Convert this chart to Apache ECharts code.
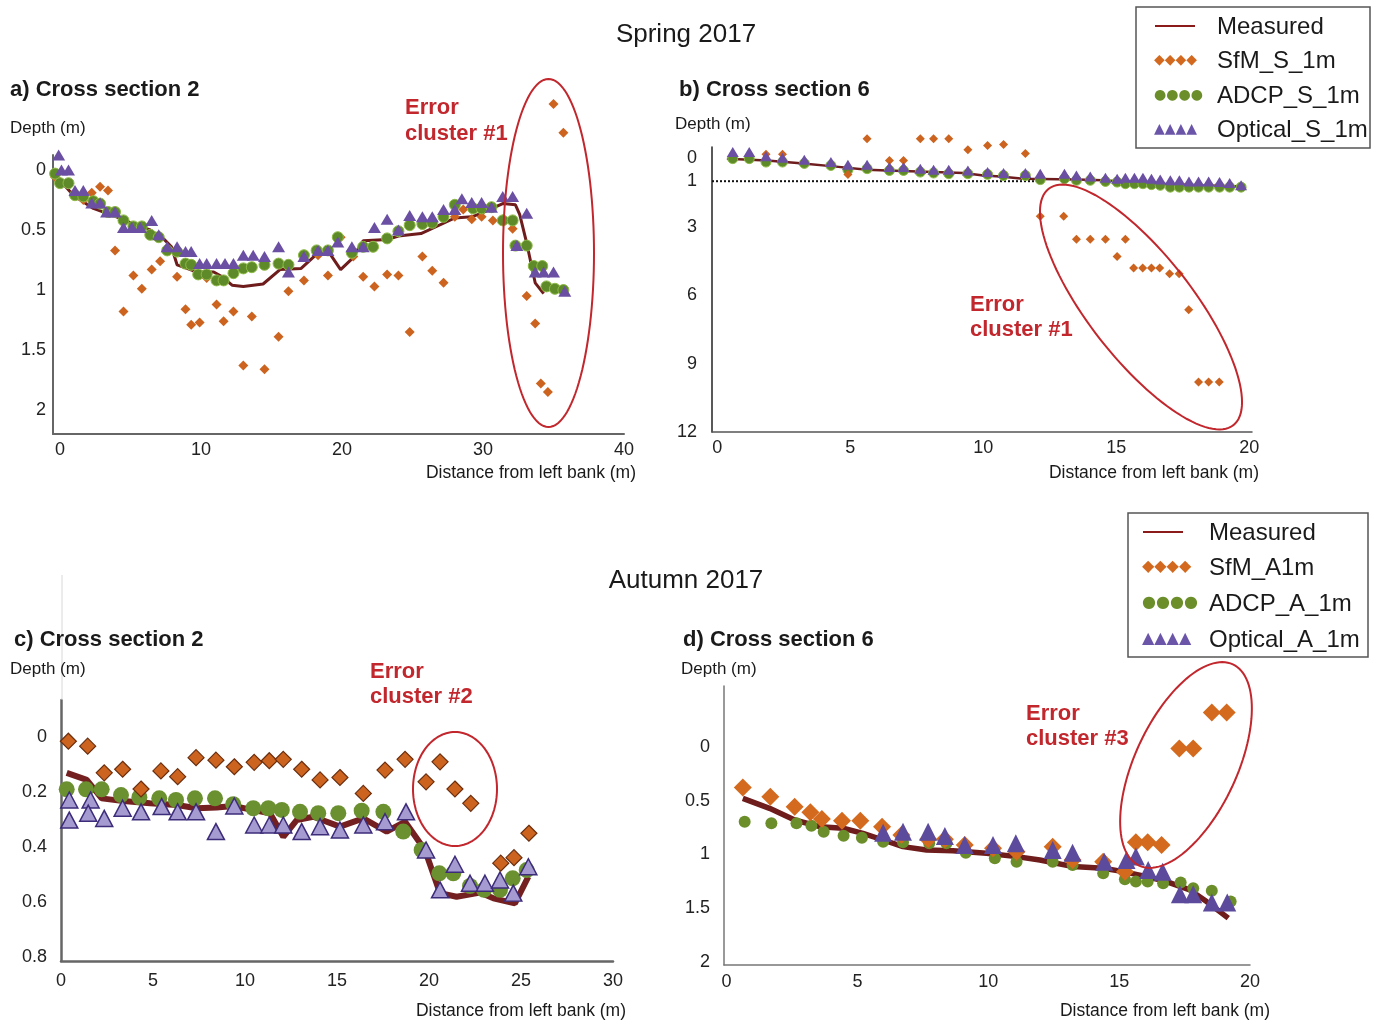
<!DOCTYPE html>
<html><head><meta charset="utf-8">
<script src="https://cdn.jsdelivr.net/npm/echarts@6/dist/echarts.min.js"></script>
<style>html,body{margin:0;padding:0;background:#fff}#c{width:1378px;height:1023px}</style>
</head><body><div id="c"></div><script>
// ---------- Panel a) Spring, cross section 2 ----------
var aXTicks = [0, 10, 20, 30, 40];
var aYTicks = [0, 0.5, 1, 1.5, 2];
var aMeasured = [[-0.35,0.04],[0.94,0.21],[2.36,0.32],[4.0,0.39],[5.4,0.46],[6.4,0.5],[7.4,0.58],[7.9,0.64],[8.3,0.79],[9.0,0.82],[9.7,0.85],[10.9,0.85],[11.5,0.89],[12.2,0.96],[13.0,0.97],[14.4,0.95],[15.6,0.83],[17.1,0.82],[18.3,0.69],[19.1,0.69],[19.9,0.83],[20.7,0.74],[21.5,0.59],[23.2,0.58],[24.0,0.55],[25.6,0.53],[28.0,0.4],[29.2,0.39],[29.9,0.36],[31.4,0.28],[32.3,0.29],[32.6,0.37],[33.1,0.61],[33.7,0.94],[34.3,1.03]];
var aSfm = [[-0.35,0.06],[0,0.1],[0.6,0.11],[1.65,0.25],[2.25,0.19],[2.84,0.14],[3.4,0.17],[3.9,0.67],[4.5,1.18],[5.2,0.88],[5.8,0.99],[6.5,0.83],[7.1,0.76],[8.3,0.89],[8.9,1.16],[9.3,1.29],[9.9,1.27],[10.4,0.9],[11.1,1.12],[11.6,1.26],[12.3,1.18],[13.0,1.63],[13.6,1.22],[14.5,1.66],[15.5,1.39],[16.2,1.01],[17.3,0.92],[18.3,0.71],[19.0,0.88],[19.9,0.56],[20.8,0.72],[21.5,0.89],[22.3,0.97],[23.2,0.87],[24.0,0.88],[24.8,1.35],[25.7,0.72],[26.4,0.84],[27.2,0.94],[28.0,0.39],[28.6,0.33],[29.2,0.41],[29.9,0.39],[30.7,0.42],[31.4,0.41],[32.1,0.49],[33.1,1.05],[33.7,1.28],[34.1,1.78],[34.6,1.85],[35.0,-0.55],[35.7,-0.31]];
var aAdcp = [[-0.35,0.03],[0,0.11],[0.6,0.11],[1.06,0.21],[1.65,0.22],[2.36,0.26],[2.84,0.28],[3.4,0.35],[3.9,0.35],[4.5,0.42],[5.2,0.47],[5.8,0.47],[6.4,0.54],[7.0,0.56],[7.6,0.67],[8.3,0.68],[8.9,0.78],[9.3,0.79],[9.8,0.87],[10.4,0.87],[11.1,0.92],[11.6,0.92],[12.3,0.86],[13.0,0.82],[13.6,0.81],[14.5,0.79],[15.5,0.78],[16.2,0.79],[17.3,0.71],[18.2,0.67],[19.0,0.67],[19.7,0.56],[20.7,0.69],[21.5,0.64],[22.2,0.64],[23.2,0.57],[24.0,0.51],[24.8,0.46],[25.7,0.45],[26.4,0.44],[27.2,0.39],[28.0,0.29],[29.3,0.32],[29.9,0.32],[30.6,0.31],[31.4,0.42],[32.1,0.42],[32.3,0.63],[33.1,0.63],[33.6,0.8],[34.2,0.8],[34.5,0.97],[35.1,0.99],[35.7,1.0]];
var aOptical = [[-0.1,-0.125],[0.1,0],[0.6,0],[1.06,0.17],[1.65,0.17],[2.25,0.275],[2.84,0.275],[3.3,0.35],[3.9,0.35],[4.5,0.48],[5.1,0.48],[5.7,0.48],[6.5,0.42],[7.0,0.54],[7.6,0.64],[8.3,0.64],[8.9,0.68],[9.3,0.68],[9.9,0.78],[10.4,0.78],[11.1,0.78],[11.7,0.78],[12.3,0.78],[13.0,0.71],[13.7,0.71],[14.5,0.72],[15.5,0.64],[16.2,0.85],[17.3,0.72],[18.3,0.67],[19.0,0.67],[19.7,0.6],[20.7,0.64],[21.5,0.64],[22.3,0.48],[23.2,0.41],[24.0,0.5],[24.8,0.38],[25.7,0.39],[26.4,0.39],[27.2,0.33],[28.0,0.33],[28.5,0.24],[29.2,0.27],[29.9,0.27],[30.6,0.31],[31.4,0.22],[32.1,0.22],[33.1,0.36],[32.4,0.63],[33.7,0.85],[34.3,0.85],[35.0,0.85],[35.8,1.01]];

// ---------- Panel b) Spring, cross section 6 ----------
var bXTicks = [0, 5, 10, 15, 20];
var bYTicks = [0, 1, 3, 6, 9, 12];
var bRefDepth = [[-0.2,1],[11.95,1]];
var bMeasured = [[0.36,0.01],[1.87,0.09],[3.12,0.21],[4.37,0.35],[5.63,0.5],[6.38,0.53],[8.13,0.6],[9.26,0.64],[10.0,0.75],[10.64,0.79],[11.5,0.89],[13.5,0.93],[14.5,0.96],[16.3,1.1],[18.2,1.18],[19.7,1.23]];
var bSfm = [[1.83,-0.18],[2.45,-0.18],[4.91,0.71],[5.63,-0.86],[6.47,0.09],[7.0,0.09],[7.63,-0.86],[8.13,-0.86],[8.7,-0.86],[9.42,-0.38],[10.16,-0.57],[10.76,-0.61],[11.58,-0.21],[12.14,2.54],[13.02,2.54],[13.5,3.55],[14.02,3.55],[14.59,3.55],[15.03,4.3],[15.34,3.55],[15.65,4.81],[15.99,4.81],[16.32,4.81],[16.63,4.81],[17.0,5.06],[17.36,5.06],[17.72,6.64],[18.09,9.81],[18.47,9.81],[18.87,9.81]];
var bAdcp = [[0.58,0.01],[1.2,0.01],[1.83,0.16],[2.45,0.16],[3.27,0.22],[4.27,0.31],[4.91,0.5],[5.63,0.45],[6.47,0.53],[7.0,0.53],[7.63,0.6],[8.13,0.64],[8.7,0.67],[9.42,0.67],[10.16,0.7],[10.76,0.75],[11.58,0.75],[12.14,0.93],[13.05,0.89],[13.5,0.96],[14.02,0.96],[14.59,1.01],[15.03,1.04],[15.34,1.11],[15.68,1.11],[16.0,1.11],[16.32,1.15],[16.65,1.18],[17.03,1.26],[17.37,1.26],[17.73,1.26],[18.09,1.26],[18.47,1.26],[18.88,1.26],[19.26,1.26],[19.69,1.26]];
var bOptical = [[0.58,-0.28],[1.2,-0.28],[1.83,-0.09],[2.45,-0.03],[3.27,0.06],[4.27,0.16],[4.91,0.28],[5.63,0.28],[6.47,0.38],[7.0,0.38],[7.63,0.45],[8.13,0.5],[8.7,0.5],[9.42,0.53],[10.16,0.6],[10.76,0.64],[11.58,0.64],[12.14,0.67],[13.05,0.67],[13.5,0.75],[14.02,0.79],[14.59,0.85],[15.03,0.89],[15.34,0.85],[15.68,0.85],[16.0,0.85],[16.32,0.89],[16.65,0.93],[17.03,0.96],[17.37,0.96],[17.73,1.01],[18.09,1.01],[18.47,1.01],[18.88,1.04],[19.26,1.08],[19.69,1.18]];

// ---------- Panel c) Autumn, cross section 2 ----------
var cXTicks = [0, 5, 10, 15, 20, 25, 30];
var cYTicks = [0, 0.2, 0.4, 0.6, 0.8];
var cMeasured = [[0.31,0.13],[1.4,0.156],[2.21,0.223],[3.39,0.233],[4.84,0.241],[6.29,0.247],[7.38,0.259],[8.46,0.256],[9.36,0.251],[10.27,0.263],[11.36,0.277],[12.08,0.363],[12.81,0.302],[13.71,0.29],[15.16,0.326],[16.43,0.296],[17.7,0.344],[18.7,0.308],[19.78,0.411],[20.6,0.568],[21.5,0.581],[22.77,0.566],[23.5,0.587],[24.67,0.605],[25.4,0.508]];
var cSfm = [[0.4,0.015],[1.45,0.033],[2.35,0.13],[3.35,0.117],[4.35,0.189],[5.43,0.123],[6.34,0.144],[7.34,0.075],[8.42,0.084],[9.42,0.108],[10.5,0.092],[11.32,0.086],[12.08,0.081],[13.08,0.117],[14.08,0.156],[15.16,0.147],[16.43,0.205],[17.61,0.12],[18.7,0.081],[19.84,0.163],[20.6,0.09],[21.41,0.189],[22.27,0.241],[23.9,0.459],[24.62,0.439],[25.43,0.35]];
var cAdcp = [[0.31,0.19],[1.36,0.19],[2.21,0.19],[3.26,0.211],[4.26,0.219],[5.34,0.223],[6.25,0.229],[7.28,0.223],[8.37,0.223],[9.36,0.244],[10.45,0.259],[11.27,0.259],[12.0,0.265],[12.99,0.272],[13.98,0.277],[15.07,0.277],[16.34,0.268],[17.52,0.272],[18.6,0.344],[19.6,0.411],[20.56,0.496],[21.32,0.496],[22.23,0.542],[22.99,0.556],[23.86,0.556],[24.55,0.514],[25.31,0.484]];
var cOptical = [[0.45,0.229],[0.45,0.302],[1.61,0.229],[1.48,0.277],[2.35,0.296],[3.35,0.259],[4.35,0.272],[5.47,0.253],[6.34,0.272],[7.34,0.272],[8.42,0.344],[9.42,0.251],[10.5,0.32],[11.32,0.32],[12.08,0.32],[13.08,0.344],[14.08,0.326],[15.16,0.338],[16.43,0.32],[17.61,0.308],[18.75,0.272],[19.84,0.411],[20.6,0.556],[21.41,0.463],[22.23,0.532],[23.04,0.532],[23.86,0.52],[24.58,0.568],[25.4,0.472]];

// ---------- Panel d) Autumn, cross section 6 ----------
var dXTicks = [0, 5, 10, 15, 20];
var dYTicks = [0, 0.5, 1, 1.5, 2];
var dMeasured = [[0.62,0.477],[1.64,0.57],[2.6,0.679],[3.56,0.741],[4.45,0.756],[5.21,0.803],[5.98,0.865],[6.74,0.927],[7.64,0.958],[8.65,0.965],[9.93,0.989],[11.08,1.02],[11.97,1.051],[13.24,1.113],[14.39,1.128],[15.16,1.16],[16.05,1.207],[16.81,1.253],[17.7,1.33],[18.34,1.439],[19.17,1.593]];
var dSfm = [[0.62,0.375],[1.67,0.462],[2.6,0.555],[3.2,0.607],[3.64,0.67],[4.41,0.686],[5.11,0.686],[5.94,0.741],[6.68,0.819],[7.7,0.859],[8.34,0.859],[9.1,0.912],[10.18,0.942],[11.08,0.974],[12.46,0.927],[13.22,1.051],[14.39,1.067],[15.22,1.16],[15.64,0.887],[16.09,0.887],[16.62,0.912],[17.3,0.012],[17.83,0.012],[18.54,-0.323],[19.11,-0.323]];
var dAdcp = [[0.69,0.695],[1.71,0.71],[2.67,0.71],[3.24,0.732],[3.71,0.788],[4.47,0.825],[5.17,0.844],[5.98,0.881],[6.74,0.887],[7.74,0.896],[8.4,0.896],[9.14,0.983],[10.25,1.036],[11.08,1.067],[12.46,1.067],[13.22,1.098],[14.39,1.175],[15.22,1.231],[15.64,1.253],[16.09,1.253],[16.68,1.268],[17.35,1.262],[17.83,1.314],[18.54,1.337],[19.26,1.439]];
var dOptical = [[5.98,0.797],[6.74,0.788],[7.7,0.788],[8.34,0.828],[9.1,0.912],[10.18,0.912],[11.05,0.896],[12.46,0.958],[13.22,0.983],[14.43,1.067],[15.28,1.051],[15.64,1.02],[16.11,1.144],[16.66,1.16],[17.32,1.37],[17.83,1.37],[18.54,1.448],[19.13,1.448]];

// ---------- rendering ----------
var FONT = 'Liberation Sans, Arial, Helvetica, sans-serif';
var RED = '#C1272D';
var chart = echarts.init(document.getElementById('c'), null, {renderer: 'canvas'});

function xAx(gi, min, max, ticks, col, w, margin) {
  return {gridIndex: gi, type: 'value', min: min, max: max,
    axisLine: {show: true, onZero: false, lineStyle: {color: col, width: w}},
    axisTick: {show: false}, splitLine: {show: false},
    axisLabel: {customValues: ticks, fontSize: 18, color: '#222', fontFamily: FONT, margin: margin}};
}
function yAx(gi, min, max, ticks, col, w, margin) {
  return {gridIndex: gi, type: 'value', inverse: true, min: min, max: max,
    axisLine: {show: true, onZero: false, lineStyle: {color: col, width: w}},
    axisTick: {show: false}, splitLine: {show: false},
    axisLabel: {customValues: ticks, fontSize: 18, color: '#222', fontFamily: FONT, margin: margin}};
}
function line(gi, data, color, width, extra) {
  var s = {type: 'line', xAxisIndex: gi, yAxisIndex: gi, data: data, symbol: 'none',
    lineStyle: {color: color, width: width}, z: 2, silent: true, animation: false};
  if (extra) for (var k in extra) s[k] = extra[k];
  return s;
}
function scat(gi, data, sym, size, color, border, bw, z) {
  return {type: 'scatter', xAxisIndex: gi, yAxisIndex: gi, data: data, symbol: sym,
    symbolSize: size, clip: false, z: z || 3, animation: false,
    itemStyle: {color: color, borderColor: border || color, borderWidth: bw || 0, opacity: 1}};
}
function ellipse(cx, cy, a, b, angDeg) {
  var pts = [], t = angDeg * Math.PI / 180;
  for (var i = 0; i < 120; i++) {
    var u = i / 120 * 2 * Math.PI;
    var ex = a * Math.cos(u), ey = b * Math.sin(u);
    pts.push([cx + ex * Math.cos(t) - ey * Math.sin(t), cy + ex * Math.sin(t) + ey * Math.cos(t)]);
  }
  return {type: 'polygon', shape: {points: pts}, style: {fill: 'none', stroke: RED, lineWidth: 2}, z: 10};
}
function txt(x, y, s, size, opts) {
  opts = opts || {};
  var st = {text: s, x: x, y: y + 1, fill: opts.fill || '#1a1a1a', fontSize: size,
    fontFamily: FONT, fontWeight: opts.bold ? 'bold' : 'normal',
    align: opts.align || 'left', textAlign: opts.align || 'left',
    verticalAlign: 'middle', textVerticalAlign: 'middle'};
  return {type: 'text', style: st, z: 20};
}
function legend(x, y, w, h, rows, lx, tx, names, mSize) {
  var els = [{type: 'rect', shape: {x: x, y: y, width: w, height: h},
    style: {fill: '#fff', stroke: '#555', lineWidth: 1.5}, z: 15}];
  els.push({type: 'line', shape: {x1: lx, y1: rows[0], x2: lx + 40, y2: rows[0]},
    style: {stroke: '#8B1A1A', lineWidth: 2}, z: 16});
  var glyphs = ['\u25C6\u25C6\u25C6\u25C6', '\u25CF\u25CF\u25CF\u25CF', '\u25B2\u25B2\u25B2\u25B2'];
  var cols = ['#D2691E', '#6B8E2A', '#6A55A8'];
  for (var i = 0; i < 3; i++) {
    els.push({type: 'text', style: {text: glyphs[i], x: lx - 1, y: rows[i + 1], fill: cols[i],
      fontSize: mSize, fontFamily: 'DejaVu Sans', verticalAlign: 'middle', textVerticalAlign: 'middle'}, z: 16});
  }
  for (var j = 0; j < 4; j++) els.push(txt(tx, rows[j], names[j], 24));
  return els;
}

var ORANGE = '#CC6420', GREEN = '#5F8A2A', PURPLE = '#6A4FA3';

var option = {
  backgroundColor: '#fff',
  animation: false,
  grid: [
    {left: 53, top: 155, width: 571, height: 279},
    {left: 712, top: 147, width: 540, height: 285},
    {left: 61, top: 700, width: 552, height: 261},
    {left: 724, top: 686, width: 526, height: 279}
  ],
  xAxis: [
    xAx(0, -0.5, 40, aXTicks, '#666', 2, 7),
    xAx(1, -0.2, 20.1, bXTicks, '#555', 1.5, 7),
    xAx(2, 0, 30, cXTicks, '#666', 2.5, 11),
    xAx(3, -0.1, 20, dXTicks, '#777', 1.5, 8)
  ],
  yAxis: [
    yAx(0, -0.125, 2.2, aYTicks, '#666', 2, 7),
    yAx(1, -0.5, 12, bYTicks, '#222', 1.5, 15),
    yAx(2, -0.135, 0.815, cYTicks, '#666', 2.5, 14),
    yAx(3, -0.57, 2.03, dYTicks, '#777', 1.5, 14)
  ],
  series: [
    // a
    line(0, aMeasured, '#6E1C1C', 3),
    scat(0, aSfm, 'diamond', 10, ORANGE),
    scat(0, aAdcp, 'circle', 11, GREEN, '#8DBA45', 1, 4),
    scat(0, aOptical, 'triangle', [13, 11], PURPLE, null, 0, 5),
    // b
    line(1, bRefDepth, '#111', 2, {lineStyle: {color: '#111', width: 2, type: [2, 2]}, z: 1}),
    line(1, bMeasured, '#6E1C1C', 2.5),
    scat(1, bAdcp, 'circle', 10, GREEN, '#8DBA45', 1, 3),
    scat(1, bSfm, 'diamond', 9, ORANGE, null, 0, 4),
    scat(1, bOptical, 'triangle', [12, 10], PURPLE, null, 0, 5),
    // c
    line(2, cMeasured, '#742020', 6),
    scat(2, cAdcp, 'circle', 16, '#6A9030', '#6A9030', 0, 3),
    scat(2, cOptical, 'triangle', [17, 16], '#A69BD0', '#3D2C7A', 1.5, 4),
    scat(2, cSfm, 'diamond', 16, '#CC6420', '#6B2E0E', 1.2, 5),
    // d
    line(3, dMeasured, '#6E1C1C', 5.5),
    scat(3, dAdcp, 'circle', 12, '#6B8E2A', '#6B8E2A', 0, 3),
    scat(3, dSfm, 'diamond', 18, '#D46A1E', null, 0, 4),
    scat(3, dOptical, 'triangle', [18, 18], '#5C4A9C', null, 0, 5)
  ],
  graphic: [].concat(
    [
      txt(686, 34, 'Spring 2017', 26, {align: 'center'}),
      txt(686, 580, 'Autumn 2017', 26, {align: 'center'}),
      txt(10, 89, 'a) Cross section 2', 22, {bold: true}),
      txt(679, 89, 'b) Cross section 6', 22, {bold: true}),
      txt(14, 639, 'c) Cross section 2', 22, {bold: true}),
      txt(683, 639, 'd) Cross section 6', 22, {bold: true}),
      txt(10, 127, 'Depth (m)', 17),
      txt(675, 123, 'Depth (m)', 17),
      txt(10, 668, 'Depth (m)', 17),
      txt(681, 668, 'Depth (m)', 17),
      txt(636, 472, 'Distance from left bank (m)', 17.5, {align: 'right'}),
      txt(1259, 472, 'Distance from left bank (m)', 17.5, {align: 'right'}),
      txt(626, 1010, 'Distance from left bank (m)', 17.5, {align: 'right'}),
      txt(1270, 1010, 'Distance from left bank (m)', 17.5, {align: 'right'}),
      txt(405, 107, 'Error', 22, {bold: true, fill: RED}),
      txt(405, 133, 'cluster #1', 22, {bold: true, fill: RED}),
      txt(970, 304, 'Error', 22, {bold: true, fill: RED}),
      txt(970, 329, 'cluster #1', 22, {bold: true, fill: RED}),
      txt(370, 671, 'Error', 22, {bold: true, fill: RED}),
      txt(370, 696, 'cluster #2', 22, {bold: true, fill: RED}),
      txt(1026, 713, 'Error', 22, {bold: true, fill: RED}),
      txt(1026, 738, 'cluster #3', 22, {bold: true, fill: RED}),
      ellipse(548.5, 253, 45.5, 174, 0),
      ellipse(1141, 307, 150, 52, 52),
      ellipse(455, 789, 42, 57, 0),
      ellipse(1186, 765, 111, 51, -65),
      {type: 'line', shape: {x1: 62, y1: 575, x2: 62, y2: 700}, style: {stroke: '#d8d8d8', lineWidth: 1}, z: 1}
    ],
    legend(1136, 7, 234, 141, [26, 60, 95, 129], 1155, 1217, ['Measured', 'SfM_S_1m', 'ADCP_S_1m', 'Optical_S_1m'], 14),
    legend(1128, 513, 240, 144, [532, 567, 603, 639], 1143, 1209, ['Measured', 'SfM_A1m', 'ADCP_A_1m', 'Optical_A_1m'], 16)
  )
};
chart.setOption(option);
</script></body></html>
